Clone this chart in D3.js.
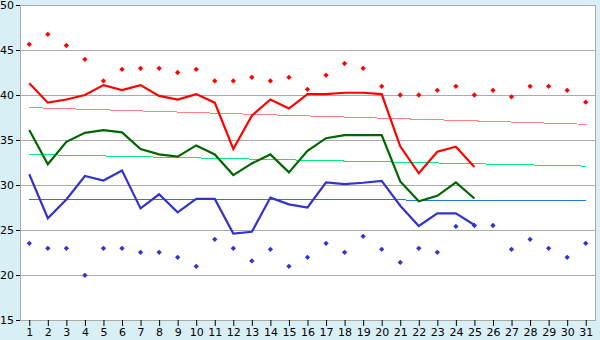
<!DOCTYPE html>
<html>
<head>
<meta charset="utf-8">
<script src="https://cdn.jsdelivr.net/npm/d3@7"></script>
<style>
  body { margin: 0; background: #d9eff6; }
  svg { display: block; }
  text { font-family: "DejaVu Sans", Verdana, sans-serif; font-size: 11px; fill: #000; }
</style>
</head>
<body>
<svg id="chart" width="600" height="340"></svg>
<script>
// days of the month
var days = d3.range(1, 32);

// main lines (days 1-25)
var redLine = [41.3, 39.15, 39.5, 40.0, 41.1, 40.55, 41.1, 39.9, 39.5, 40.1,
  39.15, 34.0, 37.7, 39.5, 38.5, 40.1, 40.1, 40.25, 40.25, 40.1,
  34.3, 31.3, 33.7, 34.25, 32.0];
var greenLine = [36.1, 32.3, 34.8, 35.8, 36.1, 35.85, 34.0, 33.4, 33.15, 34.4,
  33.4, 31.1, 32.4, 33.4, 31.4, 33.8, 35.2, 35.55, 35.55, 35.55,
  30.4, 28.2, 28.8, 30.3, 28.5];
var blueLine = [31.2, 26.3, 28.4, 31.0, 30.5, 31.6, 27.4, 28.97, 26.96, 28.45,
  28.45, 24.6, 24.8, 28.6, 27.85, 27.5, 30.3, 30.1, 30.25, 30.45,
  27.7, 25.45, 26.85, 26.85, 25.55];

// scattered points (all 31 days)
var redPoints = [45.63, 46.74, 45.5, 43.96, 41.56, 42.85, 42.96, 42.96, 42.5, 42.85,
  41.56, 41.56, 41.96, 41.56, 41.96, 40.63, 42.2, 43.5, 42.96, 40.96,
  40.0, 40.0, 40.52, 40.96, 40.0, 40.52, 39.8, 40.96, 40.96, 40.52, 39.2];
var bluePoints = [23.52, 22.96, 22.96, 19.96, 22.96, 22.96, 22.52, 22.52, 21.96, 20.96,
  23.96, 22.96, 21.56, 22.85, 20.96, 21.96, 23.52, 22.52, 24.3, 22.85,
  21.4, 22.96, 22.52, 25.4, 25.5, 25.5, 22.85, 23.96, 22.96, 21.96, 23.52];

// trend lines: value at day 1 and day 31
var redTrend = [38.6, 36.75];
var greenTrend = [33.4, 32.1];
var blueTrend = [28.4, 28.3];

var yTicks = [15, 20, 25, 30, 35, 40, 45, 50];

var svg = d3.select("#chart");
var margin = { left: 20, right: 5, top: 5, bottom: 20 };
var width = 600, height = 340;

var x = d3.scalePoint()
  .domain(days)
  .range([margin.left, width - margin.right])
  .padding(0.5);
var y = d3.scaleLinear()
  .domain([15, 50])
  .range([height - margin.bottom, margin.top]);

// plot area
svg.append("rect")
  .attr("x", margin.left + 0.5)
  .attr("y", margin.top + 0.5)
  .attr("width", width - margin.left - margin.right)
  .attr("height", height - margin.top - margin.bottom)
  .attr("fill", "#fff")
  .attr("stroke", "#aaa")
  .attr("shape-rendering", "crispEdges");

// grid lines
svg.append("g")
  .selectAll("line")
  .data(yTicks.slice(1, -1))
  .enter().append("line")
  .attr("x1", margin.left)
  .attr("x2", width - margin.right)
  .attr("y1", (d) => Math.round(y(d)) + 0.5)
  .attr("y2", (d) => Math.round(y(d)) + 0.5)
  .attr("stroke", "#aaa");

// axes
var yAxis = svg.append("g")
  .attr("transform", `translate(${margin.left},0)`)
  .call(d3.axisLeft(y).tickValues(yTicks).tickSize(4).tickPadding(2));
yAxis.select(".domain").attr("stroke", "#aaa");

var xAxis = svg.append("g")
  .attr("transform", `translate(0,${height - margin.bottom})`)
  .call(d3.axisBottom(x).tickSize(6).tickPadding(2).tickSizeOuter(0));
xAxis.select(".domain").attr("stroke", "#aaa");
svg.selectAll(".tick text").style("font-size", "11px").attr("fill", "#000");
svg.selectAll(".tick line").attr("stroke", "#000");

// trend lines
function trend(vals, colour) {
  svg.append("line")
    .attr("x1", x(days[0]))
    .attr("x2", x(days[days.length - 1]))
    .attr("y1", y(vals[0]))
    .attr("y2", y(vals[1]))
    .attr("stroke", colour)
    .attr("stroke-width", 1)
    .attr("shape-rendering", "crispEdges");
}
trend(redTrend, "#ff8080");
trend(greenTrend, "#00ee77");
trend(blueTrend, "#1e78e6");

// main lines
var line = d3.line()
  .x((d, i) => x(days[i]))
  .y((d) => y(d));

function series(vals, colour) {
  svg.append("path")
    .datum(vals)
    .attr("d", line)
    .attr("fill", "none")
    .attr("stroke", colour)
    .attr("stroke-width", 2.2);
}
series(redLine, "#ff0000");
series(greenLine, "#006600");
series(blueLine, "#3333cc");

// point markers (small diamonds)
var marker = d3.symbol().type(d3.symbolSquare).size(14);
function points(vals, colour) {
  svg.append("g")
    .selectAll("path")
    .data(vals)
    .enter().append("path")
    .attr("d", marker)
    .attr("transform", (d, i) => `translate(${x(days[i])},${y(d)}) rotate(45)`)
    .attr("fill", colour);
}
points(redPoints, "#ff0000");
points(bluePoints, "#3333cc");
</script>
</body>
</html>
